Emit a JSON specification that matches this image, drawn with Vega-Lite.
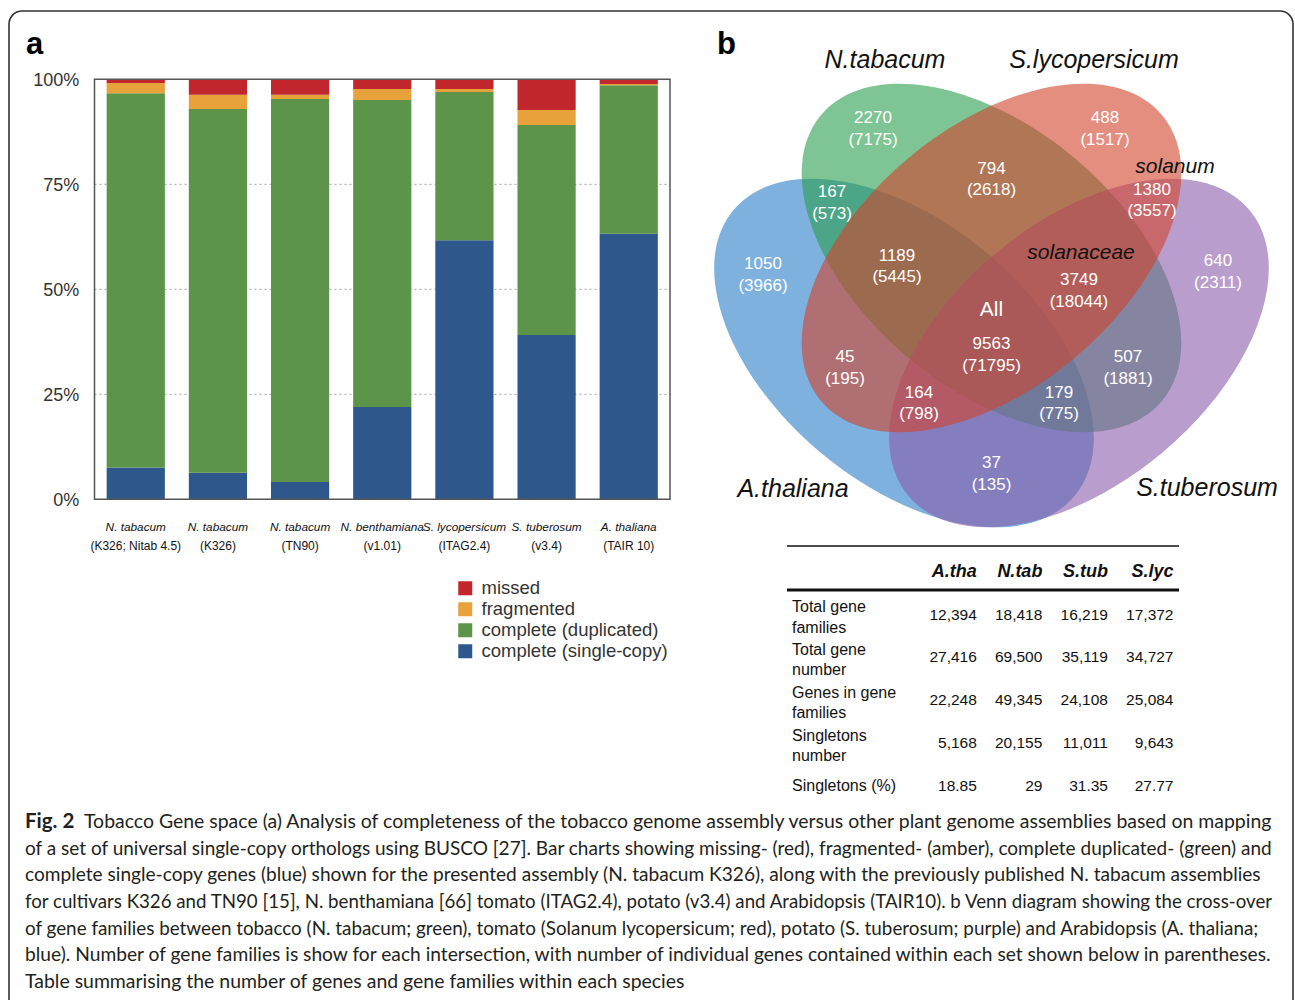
{
  "$schema": "https://vega.github.io/schema/vega-lite/v6.json",
  "width": 1284,
  "height": 1010,
  "autosize": "none",
  "padding": {"top": 11, "left": 9, "right": 2, "bottom": -21},
  "background": "#ffffff",
  "config": {
    "view": {"stroke": "#333333", "strokeWidth": 1.6, "cornerRadius": 13},
    "text": {"font": "Liberation Sans"}
  },
  "datasets": {
    "asmLabels": [
      {"asm": "N. tabacum (K326; Nitab 4.5)", "sp": "N. tabacum", "ver": "(K326; Nitab 4.5)"},
      {"asm": "N. tabacum (K326)", "sp": "N. tabacum", "ver": "(K326)"},
      {"asm": "N. tabacum (TN90)", "sp": "N. tabacum", "ver": "(TN90)"},
      {"asm": "N. benthamiana (v1.01)", "sp": "N. benthamiana", "ver": "(v1.01)"},
      {"asm": "S. lycopersicum (ITAG2.4)", "sp": "S. lycopersicum", "ver": "(ITAG2.4)"},
      {"asm": "S. tuberosum (v3.4)", "sp": "S. tuberosum", "ver": "(v3.4)"},
      {"asm": "A. thaliana (TAIR 10)", "sp": "A. thaliana", "ver": "(TAIR 10)"}
    ],
    "vennCounts": [
      {"n": 2270, "g": 7175, "vx": 0.3025, "vy": 0.685},
      {"n": 488, "g": 1517, "vx": 0.6892, "vy": 0.685},
      {"n": 794, "g": 2618, "vx": 0.5, "vy": 0.6008},
      {"n": 167, "g": 573, "vx": 0.2342, "vy": 0.5617},
      {"n": 1380, "g": 3557, "vx": 0.7675, "vy": 0.5658},
      {"n": 1050, "g": 3966, "vx": 0.1192, "vy": 0.4417},
      {"n": 1189, "g": 5445, "vx": 0.3425, "vy": 0.4558},
      {"n": 3749, "g": 18044, "vx": 0.6458, "vy": 0.415},
      {"n": 640, "g": 2311, "vx": 0.8775, "vy": 0.4467},
      {"n": 9563, "g": 71795, "vx": 0.5, "vy": 0.3083},
      {"n": 45, "g": 195, "vx": 0.2558, "vy": 0.2867},
      {"n": 507, "g": 1881, "vx": 0.7275, "vy": 0.2867},
      {"n": 164, "g": 798, "vx": 0.3792, "vy": 0.2275},
      {"n": 179, "g": 775, "vx": 0.6125, "vy": 0.2275},
      {"n": 37, "g": 135, "vx": 0.5, "vy": 0.11}
    ]
  },
  "resolve": {"scale": {"x": "independent", "y": "independent", "color": "independent"}},
  "layer": [
    {
      "resolve": {"scale": {"x": "independent"}},
      "layer": [
        {
          "data": {"values": [{"p": 25}, {"p": 50}, {"p": 75}]},
          "mark": {"type": "rule", "color": "#a0a0a0", "strokeDash": [2, 3], "strokeWidth": 1},
          "encoding": {
            "x": {"datum": 0, "scale": {"domain": [0, 1], "range": [85.5, 661], "nice": false, "zero": false}, "axis": null},
            "x2": {"datum": 1},
            "y": {"field": "p", "type": "quantitative", "scale": {"domain": [0, 100], "range": [488.3, 68.3], "nice": false}, "axis": null}
          }
        },
        {
          "layer": [
            {
              "data": {"values": [
                {"asm": "N. tabacum (K326; Nitab 4.5)", "status": "complete (single-copy)", "rank": 1, "pct": 7.6},
                {"asm": "N. tabacum (K326; Nitab 4.5)", "status": "complete (duplicated)", "rank": 2, "pct": 89.1},
                {"asm": "N. tabacum (K326; Nitab 4.5)", "status": "fragmented", "rank": 3, "pct": 2.4},
                {"asm": "N. tabacum (K326; Nitab 4.5)", "status": "missed", "rank": 4, "pct": 0.9},
                {"asm": "N. tabacum (K326)", "status": "complete (single-copy)", "rank": 1, "pct": 6.3},
                {"asm": "N. tabacum (K326)", "status": "complete (duplicated)", "rank": 2, "pct": 86.6},
                {"asm": "N. tabacum (K326)", "status": "fragmented", "rank": 3, "pct": 3.4},
                {"asm": "N. tabacum (K326)", "status": "missed", "rank": 4, "pct": 3.7},
                {"asm": "N. tabacum (TN90)", "status": "complete (single-copy)", "rank": 1, "pct": 4.1},
                {"asm": "N. tabacum (TN90)", "status": "complete (duplicated)", "rank": 2, "pct": 91.2},
                {"asm": "N. tabacum (TN90)", "status": "fragmented", "rank": 3, "pct": 1.0},
                {"asm": "N. tabacum (TN90)", "status": "missed", "rank": 4, "pct": 3.7},
                {"asm": "N. benthamiana (v1.01)", "status": "complete (single-copy)", "rank": 1, "pct": 22.0},
                {"asm": "N. benthamiana (v1.01)", "status": "complete (duplicated)", "rank": 2, "pct": 73.1},
                {"asm": "N. benthamiana (v1.01)", "status": "fragmented", "rank": 3, "pct": 2.6},
                {"asm": "N. benthamiana (v1.01)", "status": "missed", "rank": 4, "pct": 2.3},
                {"asm": "S. lycopersicum (ITAG2.4)", "status": "complete (single-copy)", "rank": 1, "pct": 61.7},
                {"asm": "S. lycopersicum (ITAG2.4)", "status": "complete (duplicated)", "rank": 2, "pct": 35.3},
                {"asm": "S. lycopersicum (ITAG2.4)", "status": "fragmented", "rank": 3, "pct": 0.7},
                {"asm": "S. lycopersicum (ITAG2.4)", "status": "missed", "rank": 4, "pct": 2.3},
                {"asm": "S. tuberosum (v3.4)", "status": "complete (single-copy)", "rank": 1, "pct": 39.1},
                {"asm": "S. tuberosum (v3.4)", "status": "complete (duplicated)", "rank": 2, "pct": 50.0},
                {"asm": "S. tuberosum (v3.4)", "status": "fragmented", "rank": 3, "pct": 3.6},
                {"asm": "S. tuberosum (v3.4)", "status": "missed", "rank": 4, "pct": 7.3},
                {"asm": "A. thaliana (TAIR 10)", "status": "complete (single-copy)", "rank": 1, "pct": 63.2},
                {"asm": "A. thaliana (TAIR 10)", "status": "complete (duplicated)", "rank": 2, "pct": 35.4},
                {"asm": "A. thaliana (TAIR 10)", "status": "fragmented", "rank": 3, "pct": 0.3},
                {"asm": "A. thaliana (TAIR 10)", "status": "missed", "rank": 4, "pct": 1.1}
              ]},
              "mark": {"type": "bar"},
              "encoding": {
                "x": {
                  "field": "asm", "type": "nominal", "sort": null,
                  "scale": {"type": "band", "domain": ["N. tabacum (K326; Nitab 4.5)", "N. tabacum (K326)", "N. tabacum (TN90)", "N. benthamiana (v1.01)", "S. lycopersicum (ITAG2.4)", "S. tuberosum (v3.4)", "A. thaliana (TAIR 10)"], "range": [85.5, 661], "paddingInner": 0.2916, "paddingOuter": 0.148},
                  "axis": null
                },
                "y": {
                  "field": "pct", "type": "quantitative", "stack": "zero",
                  "scale": {"domain": [0, 100], "range": [488.3, 68.3], "nice": false},
                  "axis": null
                },
                "color": {
                  "field": "status", "type": "nominal",
                  "scale": {"domain": ["missed", "fragmented", "complete (duplicated)", "complete (single-copy)"], "range": ["#c1272d", "#e8a23c", "#5c954a", "#2e588c"]},
                  "legend": {"orient": "none", "legendX": 447, "legendY": 568, "title": null, "symbolType": "square", "symbolSize": 196, "symbolStrokeWidth": 0, "labelFontSize": 18.5, "labelColor": "#333333", "labelFont": "Liberation Sans", "labelOffset": 7, "labelLimit": 400, "rowPadding": 2, "padding": 0}
                },
                "order": {"field": "rank", "type": "quantitative"}
              }
            },
            {
              "data": {"name": "asmLabels"},
              "mark": {"type": "text", "fontStyle": "italic", "fontSize": 11.8, "color": "#111111", "baseline": "middle", "align": "center"},
              "encoding": {
                "x": {"field": "asm", "type": "nominal", "axis": null},
                "y": {"datum": -6.6, "axis": null},
                "text": {"field": "sp"}
              }
            },
            {
              "data": {"name": "asmLabels"},
              "mark": {"type": "text", "fontSize": 12, "color": "#111111", "baseline": "middle", "align": "center"},
              "encoding": {
                "x": {"field": "asm", "type": "nominal", "axis": null},
                "y": {"datum": -11.1, "axis": null},
                "text": {"field": "ver"}
              }
            }
          ]
        },
        {
          "layer": [
            {
              "data": {"values": [{}]},
              "mark": {"type": "rect", "fillOpacity": 0, "stroke": "#555555", "strokeWidth": 1.5},
              "encoding": {
                "x": {"datum": 0, "scale": {"domain": [0, 1], "range": [85.5, 661], "nice": false, "zero": false}, "axis": null},
                "x2": {"datum": 1},
                "y": {"datum": 0, "axis": null},
                "y2": {"datum": 100}
              }
            },
            {
              "data": {"values": [{"tick": 0}, {"tick": 25}, {"tick": 50}, {"tick": 75}, {"tick": 100}]},
              "mark": {"type": "text", "align": "right", "baseline": "middle", "fontSize": 18, "color": "#333333", "dy": 2, "text": {"expr": "datum.tick + '%'"}},
              "encoding": {
                "x": {"datum": -0.0264, "axis": null},
                "y": {"field": "tick", "type": "quantitative", "axis": null}
              }
            },
            {
              "data": {"values": [{"panel": "a"}]},
              "mark": {"type": "text", "fontSize": 31, "fontWeight": "bold", "align": "left", "baseline": "alphabetic", "color": "#000000"},
              "encoding": {
                "x": {"datum": -0.119, "axis": null},
                "y": {"datum": 106, "axis": null},
                "text": {"field": "panel"}
              }
            }
          ]
        }
      ]
    },
    {
      "layer": [
        {
          "data": {"values": [
            {"set": "A.thaliana", "cx": 0.3542, "cy": 0.3117, "tilt": 40},
            {"set": "N.tabacum", "cx": 0.5, "cy": 0.47, "tilt": 40},
            {"set": "S.tuberosum", "cx": 0.6458, "cy": 0.3117, "tilt": -40},
            {"set": "S.lycopersicum", "cx": 0.5, "cy": 0.47, "tilt": -40}
          ]},
          "mark": {"type": "point", "shape": "M -1 0 C -1 -0.3225 -0.5523 -0.584 0 -0.584 C 0.5523 -0.584 1 -0.3225 1 0 C 1 0.3225 0.5523 0.584 0 0.584 C -0.5523 0.584 -1 0.3225 -1 0 Z", "size": 198025, "filled": true, "opacity": 0.6, "strokeWidth": 0},
          "encoding": {
            "x": {"field": "cx", "type": "quantitative", "scale": {"domain": [0, 1], "range": [682.5, 1282.5], "nice": false, "zero": false}, "axis": null},
            "y": {"field": "cy", "type": "quantitative", "scale": {"domain": [0, 1], "range": [529, -71], "nice": false, "zero": false}, "axis": null},
            "color": {"field": "set", "type": "nominal", "scale": {"domain": ["A.thaliana", "N.tabacum", "S.tuberosum", "S.lycopersicum"], "range": ["#287dc6", "#2a9d4d", "#8a5caa", "#d2432b"]}, "legend": null},
            "angle": {"field": "tilt", "type": "quantitative", "scale": null},
            "order": {"value": null}
          }
        },
        {
          "data": {"name": "vennCounts"},
          "mark": {"type": "text", "color": "#ffffff", "fontSize": 17, "dy": -10.75, "baseline": "middle"},
          "encoding": {
            "x": {"field": "vx", "type": "quantitative", "axis": null},
            "y": {"field": "vy", "type": "quantitative", "axis": null},
            "text": {"field": "n", "type": "nominal"}
          }
        },
        {
          "data": {"name": "vennCounts"},
          "mark": {"type": "text", "color": "#ffffff", "fontSize": 17, "dy": 10.75, "baseline": "middle", "text": {"expr": "'(' + datum.g + ')'"}},
          "encoding": {
            "x": {"field": "vx", "type": "quantitative", "axis": null},
            "y": {"field": "vy", "type": "quantitative", "axis": null}
          }
        },
        {
          "data": {"values": [{"tag": "All", "vx": 0.5, "vy": 0.3833}]},
          "mark": {"type": "text", "color": "#ffffff", "fontSize": 21, "baseline": "middle"},
          "encoding": {
            "x": {"field": "vx", "type": "quantitative", "axis": null},
            "y": {"field": "vy", "type": "quantitative", "axis": null},
            "text": {"field": "tag"}
          }
        },
        {
          "data": {"values": [{"tag": "solanaceae", "vx": 0.6492, "vy": 0.4783}, {"tag": "solanum", "vx": 0.8058, "vy": 0.6217}]},
          "mark": {"type": "text", "color": "#111111", "fontSize": 21, "fontStyle": "italic", "baseline": "middle"},
          "encoding": {
            "x": {"field": "vx", "type": "quantitative", "axis": null},
            "y": {"field": "vy", "type": "quantitative", "axis": null},
            "text": {"field": "tag"}
          }
        },
        {
          "data": {"values": [
            {"sp": "N.tabacum", "vx": 0.3225, "vy": 0.8},
            {"sp": "S.lycopersicum", "vx": 0.6708, "vy": 0.8},
            {"sp": "A.thaliana", "vx": 0.1692, "vy": 0.085},
            {"sp": "S.tuberosum", "vx": 0.8592, "vy": 0.0867}
          ]},
          "mark": {"type": "text", "color": "#111111", "fontSize": 25, "fontStyle": "italic", "baseline": "middle"},
          "encoding": {
            "x": {"field": "vx", "type": "quantitative", "axis": null},
            "y": {"field": "vy", "type": "quantitative", "axis": null},
            "text": {"field": "sp"}
          }
        },
        {
          "data": {"values": [{"panel": "b", "vx": 0.0425, "vy": 0.81}]},
          "mark": {"type": "text", "color": "#000000", "fontSize": 31, "fontWeight": "bold", "align": "left", "baseline": "alphabetic"},
          "encoding": {
            "x": {"field": "vx", "type": "quantitative", "axis": null},
            "y": {"field": "vy", "type": "quantitative", "axis": null},
            "text": {"field": "panel"}
          }
        }
      ]
    },
    {
      "layer": [
        {
          "data": {"values": [{}]},
          "mark": {"type": "rule", "color": "#111111", "strokeWidth": 1.3, "xOffset": -124.25, "x2Offset": 5.5, "yOffset": -25.7},
          "encoding": {
            "x": {"datum": "label", "type": "nominal", "scale": {"type": "point", "domain": ["label", "A.tha", "N.tab", "S.tub", "S.lyc"], "range": [902.25, 1164.5], "padding": 0}, "axis": null},
            "x2": {"datum": "S.lyc"},
            "y": {"datum": "header", "type": "nominal", "scale": {"type": "point", "domain": ["header", "Total gene\nfamilies", "Total gene\nnumber", "Genes in gene\nfamilies", "Singletons\nnumber", "Singletons (%)"], "range": [560.7, 775], "padding": 0}, "axis": null}
          }
        },
        {
          "data": {"values": [{}]},
          "mark": {"type": "rule", "color": "#111111", "strokeWidth": 2.8, "xOffset": -124.25, "x2Offset": 5.5, "yOffset": 18.3},
          "encoding": {
            "x": {"datum": "label", "type": "nominal", "axis": null},
            "x2": {"datum": "S.lyc"},
            "y": {"datum": "header", "type": "nominal", "axis": null}
          }
        },
        {
          "data": {"values": [{"sp": "A.tha"}, {"sp": "N.tab"}, {"sp": "S.tub"}, {"sp": "S.lyc"}]},
          "mark": {"type": "text", "fontSize": 18, "fontWeight": "bold", "fontStyle": "italic", "align": "right", "baseline": "middle", "color": "#111111"},
          "encoding": {
            "x": {"field": "sp", "type": "nominal", "axis": null},
            "y": {"datum": "header", "type": "nominal", "axis": null},
            "text": {"field": "sp"}
          }
        },
        {
          "data": {"values": [
            {"row": "Total gene\nfamilies", "sp": "A.tha", "v": 12394},
            {"row": "Total gene\nfamilies", "sp": "N.tab", "v": 18418},
            {"row": "Total gene\nfamilies", "sp": "S.tub", "v": 16219},
            {"row": "Total gene\nfamilies", "sp": "S.lyc", "v": 17372},
            {"row": "Total gene\nnumber", "sp": "A.tha", "v": 27416},
            {"row": "Total gene\nnumber", "sp": "N.tab", "v": 69500},
            {"row": "Total gene\nnumber", "sp": "S.tub", "v": 35119},
            {"row": "Total gene\nnumber", "sp": "S.lyc", "v": 34727},
            {"row": "Genes in gene\nfamilies", "sp": "A.tha", "v": 22248},
            {"row": "Genes in gene\nfamilies", "sp": "N.tab", "v": 49345},
            {"row": "Genes in gene\nfamilies", "sp": "S.tub", "v": 24108},
            {"row": "Genes in gene\nfamilies", "sp": "S.lyc", "v": 25084},
            {"row": "Singletons\nnumber", "sp": "A.tha", "v": 5168},
            {"row": "Singletons\nnumber", "sp": "N.tab", "v": 20155},
            {"row": "Singletons\nnumber", "sp": "S.tub", "v": 11011},
            {"row": "Singletons\nnumber", "sp": "S.lyc", "v": 9643},
            {"row": "Singletons (%)", "sp": "A.tha", "v": 18.85},
            {"row": "Singletons (%)", "sp": "N.tab", "v": 29},
            {"row": "Singletons (%)", "sp": "S.tub", "v": 31.35},
            {"row": "Singletons (%)", "sp": "S.lyc", "v": 27.77}
          ]},
          "mark": {"type": "text", "fontSize": 15.5, "align": "right", "baseline": "middle", "color": "#111111"},
          "encoding": {
            "x": {"field": "sp", "type": "nominal", "axis": null},
            "y": {"field": "row", "type": "nominal", "axis": null},
            "text": {"field": "v", "type": "quantitative", "format": ","}
          }
        },
        {
          "data": {"values": [
            {"row": "Total gene\nfamilies"},
            {"row": "Total gene\nnumber"},
            {"row": "Genes in gene\nfamilies"},
            {"row": "Singletons\nnumber"}
          ]},
          "mark": {"type": "text", "fontSize": 16, "align": "left", "baseline": "middle", "color": "#111111", "dx": -119.25, "dy": -7.3, "lineBreak": "\n", "lineHeight": 20.3},
          "encoding": {
            "x": {"datum": "label", "type": "nominal", "axis": null},
            "y": {"field": "row", "type": "nominal", "axis": null},
            "text": {"field": "row"}
          }
        },
        {
          "data": {"values": [{"row": "Singletons (%)"}]},
          "mark": {"type": "text", "fontSize": 16, "align": "left", "baseline": "middle", "color": "#111111", "dx": -119.25, "dy": 0},
          "encoding": {
            "x": {"datum": "label", "type": "nominal", "axis": null},
            "y": {"field": "row", "type": "nominal", "axis": null},
            "text": {"field": "row"}
          }
        }
      ]
    },
    {
      "layer": [
        {
          "data": {"values": [{"line": 1, "t": "Fig. 2"}]},
          "mark": {"type": "text", "font": "Lato", "fontSize": 20.5, "fontWeight": "bold", "align": "left", "baseline": "middle", "color": "#231f20"},
          "encoding": {
            "x": {"datum": 0, "scale": {"domain": [0, 1], "range": [16, 1263], "nice": false, "zero": false}, "axis": null},
            "y": {"field": "line", "type": "ordinal", "scale": {"type": "point", "domain": [1, 2, 3, 4, 5, 6, 7], "range": [811, 971], "padding": 0}, "axis": null},
            "text": {"field": "t"}
          }
        },
        {
          "data": {"values": [{"line": 1, "t": "Tobacco Gene space (a) Analysis of completeness of the tobacco genome assembly versus other plant genome assemblies based on mapping"}]},
          "mark": {"type": "text", "font": "Lato", "fontSize": 19.45, "align": "left", "baseline": "middle", "color": "#231f20", "dx": 59},
          "encoding": {"x": {"datum": 0, "axis": null}, "y": {"field": "line", "type": "ordinal", "axis": null}, "text": {"field": "t"}}
        },
        {
          "data": {"values": [{"line": 2, "t": "of a set of universal single-copy orthologs using BUSCO [27]. Bar charts showing missing- (red), fragmented- (amber), complete duplicated- (green) and"}]},
          "mark": {"type": "text", "font": "Lato", "fontSize": 19, "align": "left", "baseline": "middle", "color": "#231f20"},
          "encoding": {"x": {"datum": 0, "axis": null}, "y": {"field": "line", "type": "ordinal", "axis": null}, "text": {"field": "t"}}
        },
        {
          "data": {"values": [{"line": 3, "t": "complete single-copy genes (blue) shown for the presented assembly (N. tabacum K326), along with the previously published N. tabacum assemblies"}]},
          "mark": {"type": "text", "font": "Lato", "fontSize": 19.13, "align": "left", "baseline": "middle", "color": "#231f20"},
          "encoding": {"x": {"datum": 0, "axis": null}, "y": {"field": "line", "type": "ordinal", "axis": null}, "text": {"field": "t"}}
        },
        {
          "data": {"values": [{"line": 4, "t": "for cultivars K326 and TN90 [15], N. benthamiana [66] tomato (ITAG2.4), potato (v3.4) and Arabidopsis (TAIR10). b Venn diagram showing the cross-over"}]},
          "mark": {"type": "text", "font": "Lato", "fontSize": 18.7, "align": "left", "baseline": "middle", "color": "#231f20"},
          "encoding": {"x": {"datum": 0, "axis": null}, "y": {"field": "line", "type": "ordinal", "axis": null}, "text": {"field": "t"}}
        },
        {
          "data": {"values": [{"line": 5, "t": "of gene families between tobacco (N. tabacum; green), tomato (Solanum lycopersicum; red), potato (S. tuberosum; purple) and Arabidopsis (A. thaliana;"}]},
          "mark": {"type": "text", "font": "Lato", "fontSize": 18.83, "align": "left", "baseline": "middle", "color": "#231f20"},
          "encoding": {"x": {"datum": 0, "axis": null}, "y": {"field": "line", "type": "ordinal", "axis": null}, "text": {"field": "t"}}
        },
        {
          "data": {"values": [{"line": 6, "t": "blue). Number of gene families is show for each intersection, with number of individual genes contained within each set shown below in parentheses."}]},
          "mark": {"type": "text", "font": "Lato", "fontSize": 19.2, "align": "left", "baseline": "middle", "color": "#231f20"},
          "encoding": {"x": {"datum": 0, "axis": null}, "y": {"field": "line", "type": "ordinal", "axis": null}, "text": {"field": "t"}}
        },
        {
          "data": {"values": [{"line": 7, "t": "Table summarising the number of genes and gene families within each species"}]},
          "mark": {"type": "text", "font": "Lato", "fontSize": 19.44, "align": "left", "baseline": "middle", "color": "#231f20"},
          "encoding": {"x": {"datum": 0, "axis": null}, "y": {"field": "line", "type": "ordinal", "axis": null}, "text": {"field": "t"}}
        }
      ]
    }
  ]
}
